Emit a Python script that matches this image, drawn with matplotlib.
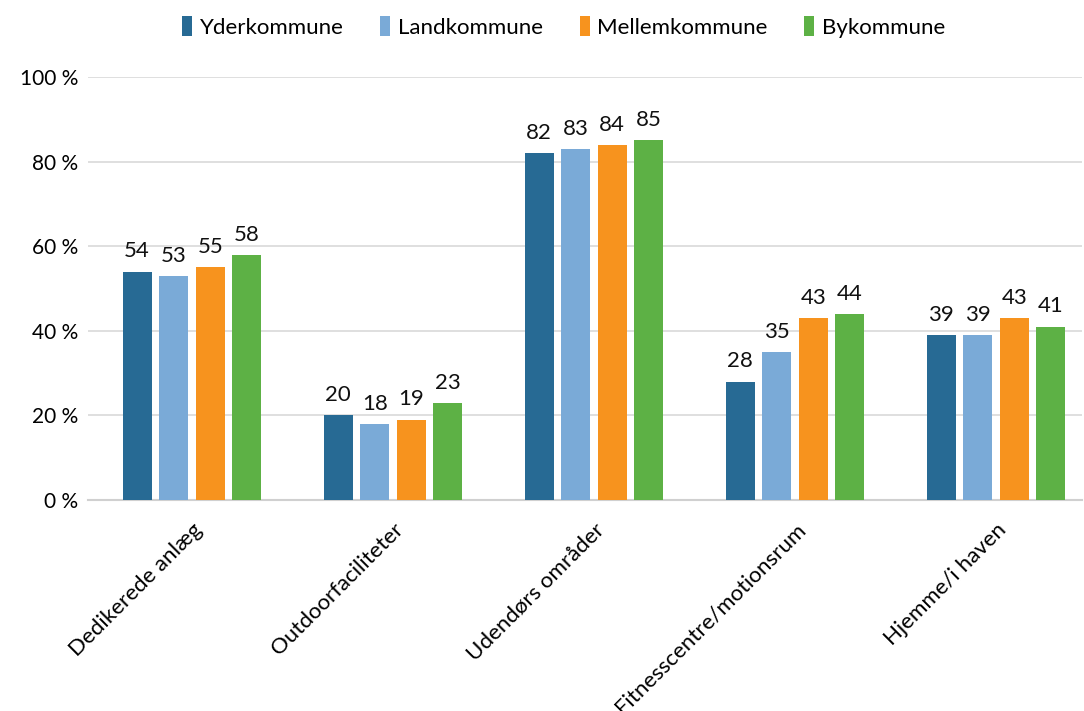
import numpy as np
import matplotlib.pyplot as plt

categories = ["Dedikerede anlæg", "Outdoorfaciliteter", "Udendørs områder",
              "Fitnesscentre/motionsrum", "Hjemme/i haven"]
series_names = ["Yderkommune", "Landkommune", "Mellemkommune", "Bykommune"]
yderkommune = [54, 20, 82, 28, 39]
landkommune = [53, 18, 83, 35, 39]
mellemkommune = [55, 19, 84, 43, 43]
bykommune = [58, 23, 85, 44, 41]
y_ticks = [0, 20, 40, 60, 80, 100]

colors = ["#276A94", "#7AAAD7", "#F7931E", "#5DB145"]

plt.rcParams['font.family'] = ['Lato', 'DejaVu Sans']

fig = plt.figure(figsize=(10.84, 7.11), dpi=100)
ax = fig.add_axes([88 / 1084, 1 - 500 / 711, (1082 - 88) / 1084, (500 - 77) / 711])

x = np.arange(len(categories))
width = 0.144
step = 0.1816
all_series = [yderkommune, landkommune, mellemkommune, bykommune]
for i, (name, vals) in enumerate(zip(series_names, all_series)):
    pos = x + (i - 1.5) * step
    bars = ax.bar(pos, vals, width, color=colors[i], label=name, zorder=3)
    for b, v in zip(bars, vals):
        ax.text(b.get_x() + b.get_width() / 2, v + 2.4, f"{v}",
                ha="center", va="bottom", fontsize=16, color="#111111")

ax.set_xlim(-0.517, 4.428)
ax.set_ylim(0, 100)
ax.set_yticks(y_ticks)
ax.set_yticklabels([f"{t} %" for t in y_ticks], fontsize=15)
ax.yaxis.grid(True, color="#D9D9D9", linewidth=1.2, zorder=0)
ax.tick_params(axis="y", length=0, pad=7)
ax.tick_params(axis="x", length=0, pad=14)
ax.set_xticks(x)
ax.set_xticklabels(categories, rotation=45, ha="right", rotation_mode="anchor", fontsize=16)
for s in ["top", "right", "left"]:
    ax.spines[s].set_visible(False)
ax.spines["bottom"].set_color("#D0D0D0")
ax.spines["bottom"].set_linewidth(1.5)

fig.legend(loc="upper center", bbox_to_anchor=(0.520, 1.005), ncol=4, frameon=False,
           fontsize=16, handlelength=0.45, handleheight=1.0, handletextpad=0.35,
           columnspacing=1.65)

fig.savefig("out.png", dpi=100)
